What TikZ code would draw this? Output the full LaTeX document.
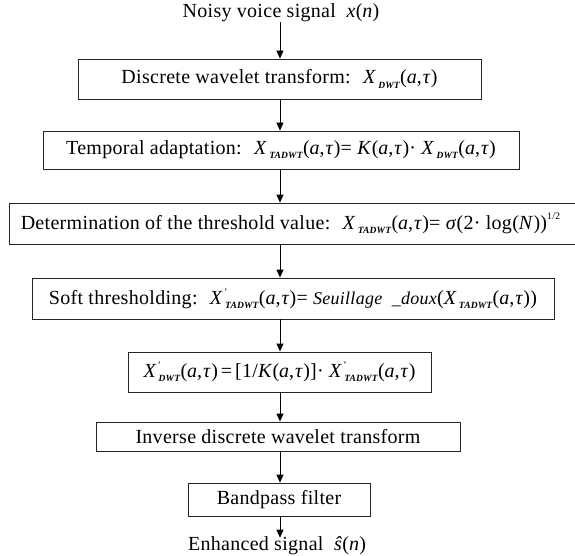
\documentclass[tikz,border=0pt]{standalone}
\usepackage{fontspec}
\setmainfont[LetterSpace=1.5]{Liberation Serif}
\usetikzlibrary{arrows.meta}
\newcommand{\Sb}[1]{\raisebox{-0.45ex}{\fontsize{9.5}{9.5}\selectfont\textit{\textbf{#1}}}}
\newcommand{\XX}[1]{\textit{X}\kern2pt\Sb{#1}}
\newcommand{\XP}[1]{\textit{X}\rlap{\raisebox{0.95ex}{\fontsize{10}{10}\selectfont\kern1pt'}}\kern2pt\Sb{#1}}
\newcommand{\At}{(\textit{a},\kern1pt\textit{τ})}
\begin{document}
\begin{tikzpicture}[x=1pt,y=-1pt,
  every node/.style={font=\fontsize{20}{22}\selectfont},
  box/.style={draw=black!85,line width=0.9pt,inner sep=0pt,align=center},
  lbl/.style={inner sep=0pt},
  arr/.style={draw=black,line width=0.9pt,-{Triangle[length=8pt,width=7pt]}}]
\useasboundingbox (0,0) rectangle (575,556);
\coordinate (axis) at (280,0);
\node[lbl] (in) at (281,13) {Noisy voice signal \ \textit{x}(\textit{n})};
\node[box,minimum width=403,minimum height=40] (b1) at (279.5,79)
  {Discrete wavelet transform: \ \XX{DWT}\At};
\node[box,minimum width=476,minimum height=38] (b2) at (281,150)
  {Temporal adaptation: \ \XX{TADWT}\At= \textit{K}\At· \XX{DWT}\At};
\node[box,minimum width=569,minimum height=41] (b3) at (293.5,223.5)
  {Determination of the threshold value: \ \XX{TADWT}\At= \textit{σ}(2· log(\textit{N}))\raisebox{1.1ex}{\fontsize{10}{10}\selectfont 1/2}\kern6pt};
\node[box,minimum width=522,minimum height=41] (b4) at (293,298.5)
  {Soft thresholding: \ \XP{TADWT}\At= {\fontsize{18}{20}\selectfont\textit{Seuillage \ \_doux}}(\XX{TADWT}\At)};
\node[box,minimum width=303,minimum height=40] (b5) at (279.5,372)
  {\XP{DWT}\At\kern3pt=\kern3pt[1/\textit{K}\At]· \XP{TADWT}\At};
\node[box,minimum width=364,minimum height=29] (b6) at (278,436.5)
  {Inverse discrete wavelet transform};
\node[box,minimum width=182,minimum height=33] (b7) at (279,499.5)
  {Bandpass filter};
\node[lbl] (out) at (277,546) {Enhanced signal \ \textit{ŝ}(\textit{n})};
\draw[arr] (in.south -| axis) -- (b1.north -| axis);
\draw[arr] (b1.south -| axis) -- (b2.north -| axis);
\draw[arr] (b2.south -| axis) -- (b3.north -| axis);
\draw[arr] (b3.south -| axis) -- (b4.north -| axis);
\draw[arr] (b4.south -| axis) -- (b5.north -| axis);
\draw[arr] (b5.south -| axis) -- (b6.north -| axis);
\draw[arr] (b6.south -| axis) -- (b7.north -| axis);
\draw[arr] (b7.south -| axis) -- ([yshift=-1pt]out.north -| axis);
\end{tikzpicture}
\end{document}
